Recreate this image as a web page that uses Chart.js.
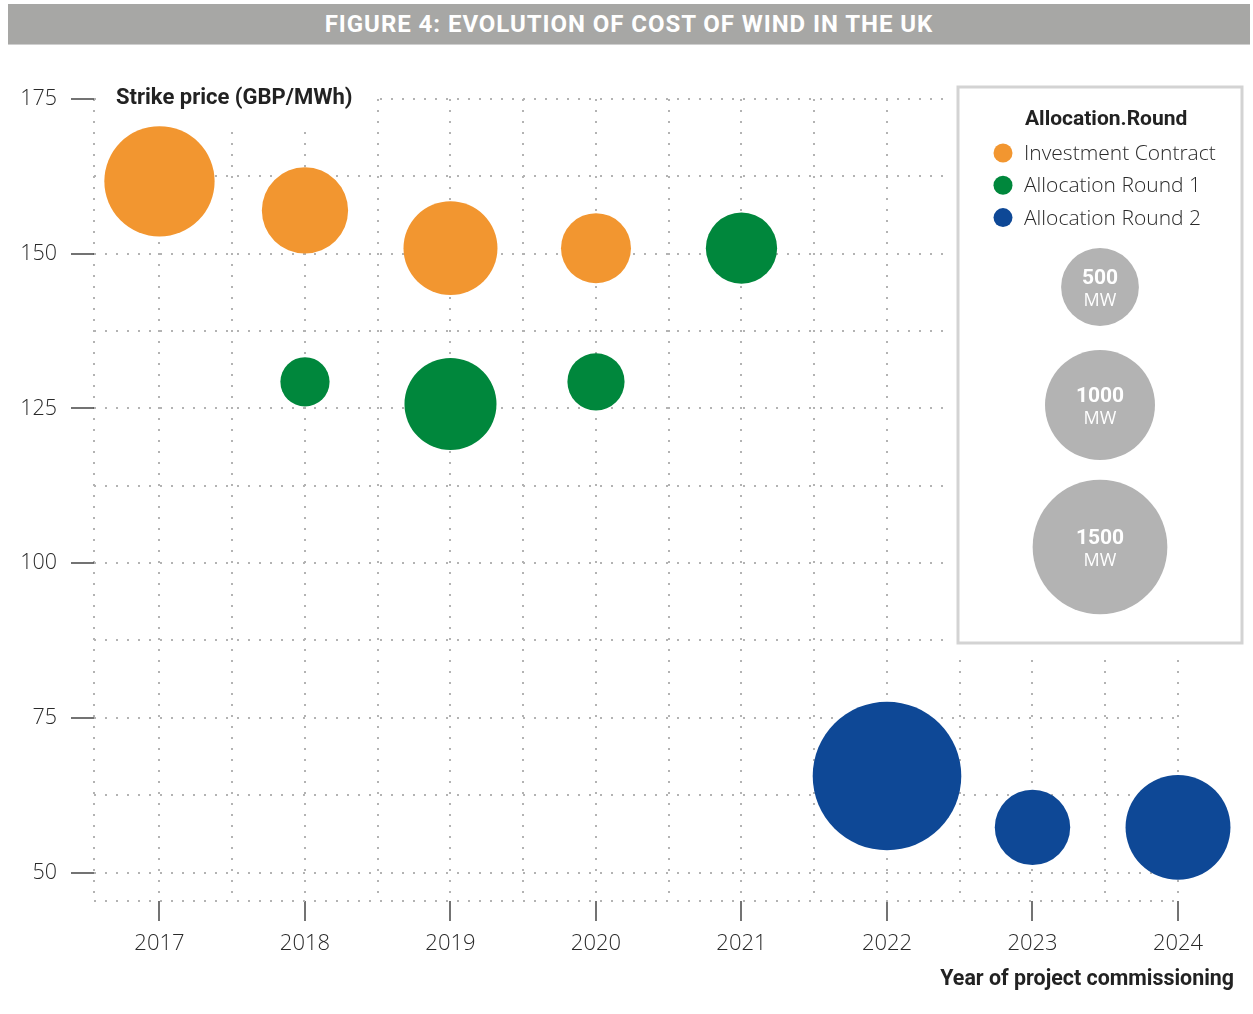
<!DOCTYPE html>
<html>
<head>
<meta charset="utf-8">
<title>Evolution of cost of wind in the UK</title>
<script src="https://cdn.jsdelivr.net/npm/chart.js@4.4.1/dist/chart.umd.min.js"></script>
<style>
  html, body { margin: 0; padding: 0; background: #fff; }
  #wrap { position: relative; width: 1253px; height: 1014px; }
  #banner {
    position: absolute; left: 8px; top: 4px; width: 1242px; height: 40px;
    background: #a7a7a5; border-bottom: 1px solid #cfcfcf;
    color: #fff; font: 700 24px Roboto, sans-serif; line-height: 41px;
    text-align: center; letter-spacing: 0.95px;
  }
  canvas { position: absolute; left: 0; top: 0; }
</style>
</head>
<body>
<div id="wrap">
  <canvas id="chart" width="1253" height="1014"></canvas>
  <div id="banner">FIGURE 4: EVOLUTION OF COST OF WIND IN THE UK</div>
</div>
<script>
// axis ticks and grid positions
const yearTicks = [2017, 2018, 2019, 2020, 2021, 2022, 2023, 2024];
const xGrid = [2016.55, 2017, 2017.5, 2018, 2018.5, 2019, 2019.5, 2020, 2020.5,
  2021, 2021.5, 2022, 2022.5, 2023, 2023.5, 2024];
const priceTicks = [50, 75, 100, 125, 150, 175];
const yGrid = [45.4, 50, 62.5, 75, 87.5, 100, 112.5, 125, 137.5, 150, 162.5, 175];

const roundNames = ['Investment Contract', 'Allocation Round 1', 'Allocation Round 2'];
const roundColors = ['#f29630', '#00873c', '#0e4896'];

// strike price (GBP/MWh) and capacity (MW) per commissioning year
const icYears = [2017, 2018, 2019, 2020];
const icPrice = [161.7, 157.0, 150.9, 150.9];
const icMW = [1005, 615, 730, 405];

const ar1Years = [2018, 2019, 2020, 2021];
const ar1Price = [129.3, 125.7, 129.3, 150.9];
const ar1MW = [200, 700, 270, 420];

const ar2Years = [2022, 2023, 2024];
const ar2Price = [65.6, 57.3, 57.3];
const ar2MW = [1825, 470, 910];

const sizeKeyMW = [500, 1000, 1500];

const FONT = "'Open Sans', 'Noto Sans', sans-serif";
const BOLD = "Roboto, 'Noto Sans', sans-serif";

// bubble area proportional to capacity
function bubbleRadius(mw) {
  return 1.739 * Math.sqrt(mw);
}

function points(years, prices, mw) {
  return years.map((x, i) => ({ x: x, y: prices[i], r: bubbleRadius(mw[i]) }));
}

const extras = {
  id: 'extras',
  beforeDatasetsDraw(chart) {
    const ctx = chart.ctx;
    const area = chart.chartArea;
    ctx.save();

    // y axis title sits on the top grid line
    ctx.fillStyle = '#fff';
    ctx.fillRect(area.left + 3, area.top - 19, 278, 46);
    ctx.fillStyle = '#222';
    ctx.font = '700 22px ' + BOLD;
    ctx.textBaseline = 'middle';
    ctx.textAlign = 'left';
    ctx.fillText('Strike price (GBP/MWh)', area.left + 22, area.top - 1);

    // legend panel
    const bx = 958, by = 87, bw = 284, bh = 556;
    ctx.fillStyle = '#fff';
    ctx.fillRect(bx - 8, by - 10, chart.width - bx + 8, bh + 24);
    ctx.strokeStyle = '#d3d3d3';
    ctx.lineWidth = 3;
    ctx.strokeRect(bx, by, bw, bh);

    ctx.fillStyle = '#222';
    ctx.font = '700 21px ' + BOLD;
    ctx.fillText('Allocation.Round', bx + 67, by + 33);

    ctx.font = '300 21px ' + FONT;
    roundNames.forEach((name, i) => {
      const cy = by + 66 + i * 32.3;
      ctx.fillStyle = roundColors[i];
      ctx.beginPath();
      ctx.arc(bx + 45, cy, 9.5, 0, Math.PI * 2);
      ctx.fill();
      ctx.fillStyle = '#2a2a2a';
      ctx.fillText(name, bx + 66, cy + 1);
    });

    // capacity key
    const keyY = [by + 200, by + 318, by + 460];
    ctx.textAlign = 'center';
    sizeKeyMW.forEach((mw, i) => {
      const cx = bx + 142, cy = keyY[i];
      ctx.fillStyle = '#b3b3b3';
      ctx.beginPath();
      ctx.arc(cx, cy, bubbleRadius(mw), 0, Math.PI * 2);
      ctx.fill();
      ctx.fillStyle = '#fff';
      ctx.font = '700 21px ' + BOLD;
      ctx.fillText(String(mw), cx, cy - 8);
      ctx.font = '18px ' + FONT;
      ctx.fillText('MW', cx, cy + 14);
    });
    ctx.restore();
  },
  afterDraw(chart) {
    const ctx = chart.ctx;
    ctx.save();
    ctx.fillStyle = '#222';
    ctx.font = '700 21.4px ' + BOLD;
    ctx.textAlign = 'right';
    ctx.textBaseline = 'middle';
    ctx.fillText('Year of project commissioning', 1234, 980);
    ctx.restore();
  }
};

new Chart(document.getElementById('chart'), {
  type: 'bubble',
  data: {
    datasets: [
      { label: roundNames[0], data: points(icYears, icPrice, icMW), backgroundColor: roundColors[0], borderWidth: 0, clip: false },
      { label: roundNames[1], data: points(ar1Years, ar1Price, ar1MW), backgroundColor: roundColors[1], borderWidth: 0, clip: false },
      { label: roundNames[2], data: points(ar2Years, ar2Price, ar2MW), backgroundColor: roundColors[2], borderWidth: 0, clip: false }
    ]
  },
  options: {
    responsive: false,
    devicePixelRatio: 1,
    animation: false,
    events: [],
    layout: { autoPadding: false, padding: { top: 99, right: 75, bottom: 0, left: 0 } },
    scales: {
      x: {
        type: 'linear',
        min: 2016.55,
        max: 2024,
        afterBuildTicks: (s) => { s.ticks = xGrid.map((v) => ({ value: v })); },
        afterFit: (s) => { s.height = 113; },
        border: { display: false, dash: [2, 9] },
        grid: {
          color: '#b3b3b3',
          lineWidth: 2,
          tickLength: 20,
          tickWidth: 1.5,
          tickBorderDash: [],
          tickColor: (c) => (c.tick && yearTicks.includes(c.tick.value) ? '#444' : 'rgba(0,0,0,0)')
        },
        ticks: {
          autoSkip: false,
          maxRotation: 0,
          padding: 10,
          color: '#2a2a2a',
          font: { family: FONT, size: 22, weight: 300 },
          callback: (v) => (yearTicks.includes(v) ? String(v) : '')
        }
      },
      y: {
        type: 'linear',
        min: 45.4,
        max: 175,
        afterBuildTicks: (s) => { s.ticks = yGrid.map((v) => ({ value: v })); },
        afterFit: (s) => { s.width = 94; },
        border: { display: false, dash: [2, 9] },
        grid: {
          color: '#b3b3b3',
          lineWidth: 2,
          tickLength: 23,
          tickWidth: 1.5,
          tickBorderDash: [],
          tickColor: (c) => (c.tick && priceTicks.includes(c.tick.value) ? '#444' : 'rgba(0,0,0,0)')
        },
        ticks: {
          autoSkip: false,
          padding: 14,
          color: '#2a2a2a',
          font: { family: FONT, size: 21.5, weight: 300 },
          callback: (v) => (priceTicks.includes(v) ? String(v) : '')
        }
      }
    },
    plugins: {
      legend: { display: false },
      tooltip: { enabled: false }
    }
  },
  plugins: [extras]
});
</script>
</body>
</html>
